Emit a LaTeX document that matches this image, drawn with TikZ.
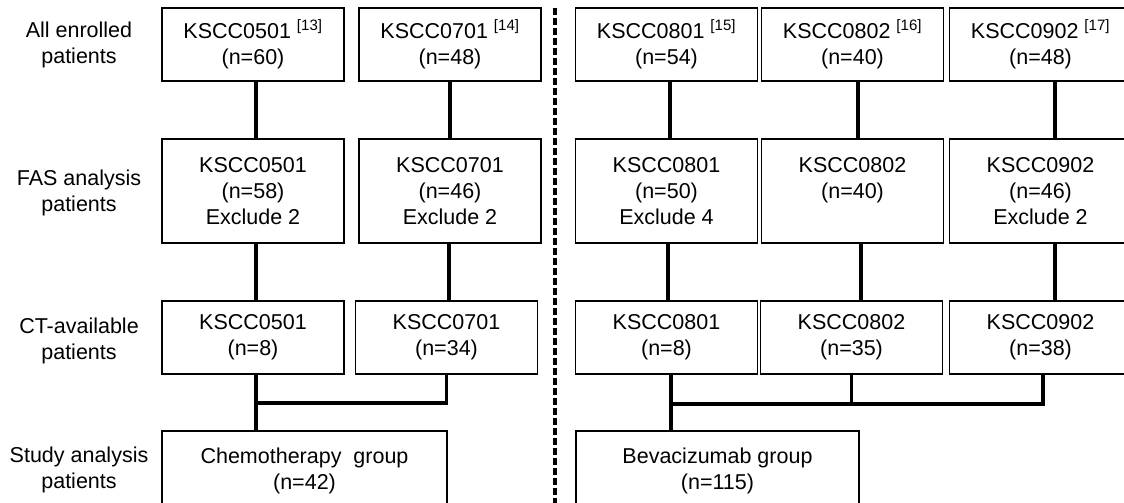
\documentclass[tikz,border=0pt]{standalone}
\usepackage{fontspec}
\setmainfont{Liberation Sans}
\begin{document}
\begin{tikzpicture}[x=1pt,y=-1pt,line join=miter,font=\fontsize{21.5}{26}\selectfont,
	box/.style={draw,line width=1.8pt,align=center,inner sep=0pt,minimum width=182pt},
	link/.style={line width=3.2pt},
	divider/.style={line width=3.5pt,dash pattern=on 7pt off 3pt}]
	\useasboundingbox (0,0) rectangle (1124,503);
	\clip (0,0) rectangle (1124,503);
	% row labels
	\foreach \y/\t [count=\i] in {45/All enrolled\\patients,193/FAS analysis\\patients,341/CT-available\\patients,470/Study analysis\\patients}
	\node[align=center] (lab\i) at (79,\y) {\t};
	% enrolled
	\foreach \n/\x/\t in {en1/253/{KSCC0501 \textsuperscript{[13]}\\(n=60)},en2/450/{KSCC0701 \textsuperscript{[14]}\\(n=48)},en3/666.5/{KSCC0801 \textsuperscript{[15]}\\(n=54)},en4/852.5/{KSCC0802 \textsuperscript{[16]}\\(n=40)},en5/1040.5/{KSCC0902 \textsuperscript{[17]}\\(n=48)}}
	\node[box,minimum height=73pt] (\n) at (\x,44.5) {\t};
	% FAS
	\foreach \n/\x/\t in {fas1/253/{KSCC0501\\(n=58)\\Exclude 2},fas2/450/{KSCC0701\\(n=46)\\Exclude 2},fas3/666.5/{KSCC0801\\(n=50)\\Exclude 4},fas4/852.5/{KSCC0802\\(n=40)\\\phantom{Exclude 0}},fas5/1040.5/{KSCC0902\\(n=46)\\Exclude 2}}
	\node[box,minimum height=104pt] (\n) at (\x,191) {\t};
	% CT-available
	\foreach \n/\x/\t in {ct1/253/{KSCC0501\\(n=8)},ct2/446.5/{KSCC0701\\(n=34)},ct3/666.5/{KSCC0801\\(n=8)},ct4/851.5/{KSCC0802\\(n=35)},ct5/1040.5/{KSCC0902\\(n=38)}}
	\node[box,minimum height=73pt] (\n) at (\x,337.5) {\t};
	% groups
	\node[box,minimum width=285pt,minimum height=79pt] (grp1) at (304.5,470.5) {Chemotherapy\ \ group\\(n=42)};
	\node[box,minimum width=283pt,minimum height=79pt] (grp2) at (717.5,470.5) {Bevacizumab group\\(n=115)};
	\foreach \p/\q/\s in {en1/fas1/3,en2/fas2/0,en3/fas3/3.5,en4/fas4/5.5,en5/fas5/14.5,fas1/ct1/3,fas2/ct2/-1,fas3/ct3/1.5,fas4/ct4/8.5,fas5/ct5/14.5}
	\draw[link] ([xshift=\s pt]\p.south) -- ([xshift=\s pt]\p.south |- \q.north);
	\path (ct1.south) ++(3,28) coordinate (jl);
	\draw[link] ([xshift=3pt]ct1.south) -- (jl) -| (ct2.south);
	\draw[link] (jl) -- (jl |- grp1.north);
	\path (ct3.south) ++(4.5,29) coordinate (jr);
	\draw[link] ([xshift=4.5pt]ct3.south) -- (jr) -| ([xshift=2.5pt]ct5.south);
	\draw[link] (ct4.south) -- (ct4.south |- jr);
	\draw[link] (jr) -- (jr |- grp2.north);
	\draw[divider] (555,8) -- (555,505);
\end{tikzpicture}
\end{document}
